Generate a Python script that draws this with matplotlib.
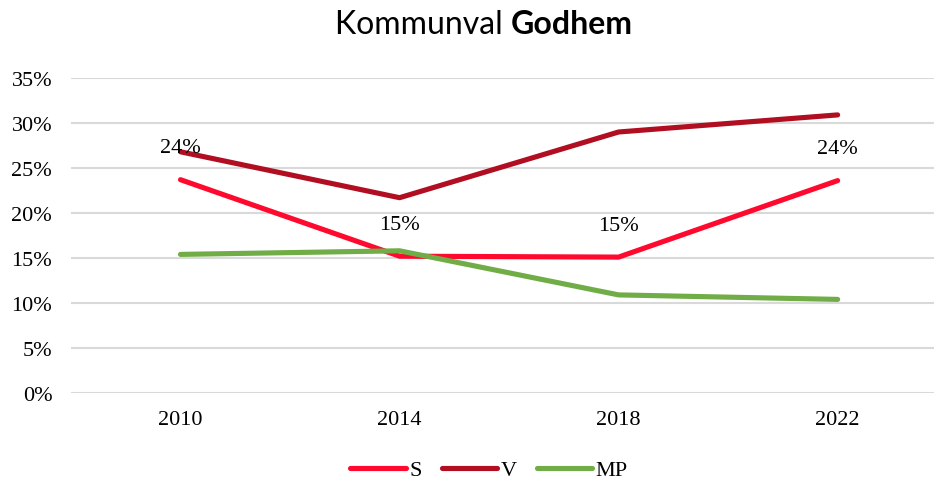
import matplotlib
matplotlib.use("Agg")
import matplotlib.pyplot as plt

# data
years = ["2010", "2014", "2018", "2022"]
s_vals = [0.237, 0.152, 0.151, 0.236]
v_vals = [0.268, 0.217, 0.290, 0.309]
mp_vals = [0.154, 0.158, 0.109, 0.104]
y_ticks = [0, 0.05, 0.10, 0.15, 0.20, 0.25, 0.30, 0.35]

serif = ["Liberation Serif", "DejaVu Serif"]

fig = plt.figure(figsize=(9.34, 4.81), dpi=100)
ax = fig.add_axes([71 / 934, 1 - 394 / 481, 1 - 71 / 934, (394 - 79) / 481])

x = list(range(len(years)))
ax.plot(x, s_vals, color="#FF0A2E", lw=3.7, solid_capstyle="round", solid_joinstyle="round", label="S", zorder=3)
ax.plot(x, v_vals, color="#B10E22", lw=3.7, solid_capstyle="round", solid_joinstyle="round", label="V", zorder=2)
ax.plot(x, mp_vals, color="#70AD47", lw=3.7, solid_capstyle="round", solid_joinstyle="round", label="MP", zorder=4)

# data labels on S
for xi, v in zip(x, s_vals):
    ax.annotate(f"{v * 100:.0f}%", (xi, v), xytext=(0, 23), textcoords="offset points",
                ha="center", va="center", fontsize=16, family=serif, color="#000000", zorder=5)

ax.set_xlim(-0.5, 3.44)
ax.set_ylim(0, 0.35)
ax.set_yticks(y_ticks)
ax.set_yticklabels([f"{t * 100:.0f}%" for t in y_ticks], family=serif, fontsize=16)
ax.set_xticks(x)
ax.set_xticklabels(years, family=serif, fontsize=16)
ax.tick_params(axis="both", length=0, colors="#000000")
ax.tick_params(axis="y", pad=13.5)
ax.tick_params(axis="x", pad=12.5)
ax.grid(axis="y", color="#D9D9D9", lw=1.5)
ax.set_axisbelow(True)
for sp in ax.spines.values():
    sp.set_visible(False)

leg = fig.legend(loc="center", bbox_to_anchor=(489 / 934, 1 - 471 / 481), ncol=3, frameon=False,
                 prop={"family": serif, "size": 16}, handlelength=2.5, handletextpad=0.15,
                 columnspacing=0.9)
for h in leg.get_lines():
    h.set_linewidth(3.7)
    h.set_solid_capstyle("round")

# title with bold second word
fig.canvas.draw()
r = fig.canvas.get_renderer()
t1 = fig.text(0, 1 - 25 / 481, "Kommunval ", fontsize=23, family=["Lato", "DejaVu Sans"],
              fontweight="normal", va="center", ha="left")
t2 = fig.text(0, 1 - 25 / 481, "Godhem", fontsize=23, family=["Lato", "DejaVu Sans"],
              fontweight="bold", va="center", ha="left")
w1 = t1.get_window_extent(r).width
w2 = t2.get_window_extent(r).width
x0 = 484 - (w1 + w2) / 2
t1.set_x(x0 / 934)
t2.set_x((x0 + w1) / 934)

fig.savefig("out.png", dpi=100)
